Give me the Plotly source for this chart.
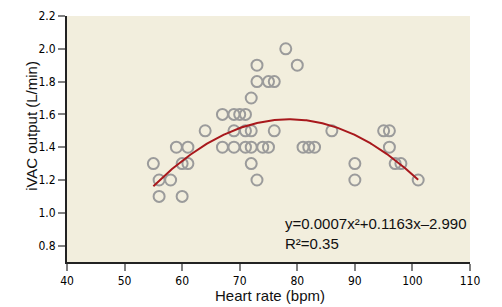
import plotly.graph_objects as go
import numpy as np

# Observed data (heart rate, iVAC output)
heart_rate = [55, 56, 56, 58, 59, 60, 60, 61, 61, 64, 67, 67, 69, 69, 69, 70, 71, 71, 71,
              72, 72, 72, 72, 73, 73, 73, 74, 75, 75, 76, 76, 78, 80, 81, 82, 83, 86,
              90, 90, 95, 96, 96, 97, 98, 101]
ivac_output = [1.3, 1.2, 1.1, 1.2, 1.4, 1.3, 1.1, 1.4, 1.3, 1.5, 1.6, 1.4, 1.6, 1.5, 1.4, 1.6, 1.6, 1.5, 1.4,
               1.7, 1.5, 1.4, 1.3, 1.9, 1.8, 1.2, 1.4, 1.8, 1.4, 1.8, 1.5, 2.0, 1.9, 1.4, 1.4, 1.4, 1.5,
               1.3, 1.2, 1.5, 1.5, 1.4, 1.3, 1.3, 1.2]

# Quadratic fit as drawn (coefficients)
fit_coef = [-0.000735, 0.1155, -2.967]
fit_range = [55, 101]

x_ticks = [40, 50, 60, 70, 80, 90, 100, 110]
y_ticks = [0.8, 1.0, 1.2, 1.4, 1.6, 1.8, 2.0, 2.2]

fx = np.linspace(fit_range[0], fit_range[1], 200)
fy = np.polyval(fit_coef, fx)

W, H = 502, 307
L, R, T, B = 67, 32, 9, 45
pw, ph = W - L - R, H - T - B

fig = go.Figure()
fig.add_trace(go.Scatter(
    x=heart_rate, y=ivac_output, mode="markers",
    marker=dict(symbol="circle-open", size=11, color="#9b9b9b", line=dict(width=2, color="#9b9b9b")),
    showlegend=False, hoverinfo="skip"))
fig.add_trace(go.Scatter(
    x=fx, y=fy, mode="lines", line=dict(color="#a8181c", width=2),
    showlegend=False, hoverinfo="skip"))

tick_font = dict(family="Liberation Sans Narrow, DejaVu Sans Condensed, Roboto Condensed, Arial Narrow, sans-serif",
                 size=12, color="#000")
title_font = dict(family="Liberation Sans, Arial, sans-serif", size=15, color="#111")

fig.add_annotation(x=77.55, y=0.934, xref="x", yref="y", text="y=0.0007x²+0.1163x–2.990",
                   showarrow=False, xanchor="left", yanchor="middle", font=title_font)
fig.add_annotation(x=77.55, y=0.815, xref="x", yref="y", text="R²=0.35",
                   showarrow=False, xanchor="left", yanchor="middle", font=title_font)


def px_to_paper(px, py):
    return (px - L) / pw, (H - B - py) / ph


xt, yt = px_to_paper(270, 296)
fig.add_annotation(x=xt, y=yt, xref="paper", yref="paper", text="Heart rate (bpm)",
                   xanchor="center", yanchor="middle", showarrow=False, font=title_font)
xt, yt = px_to_paper(32, 122)
fig.add_annotation(x=xt, y=yt, xref="paper", yref="paper", textangle=-90, text="iVAC output (L/min)",
                   xanchor="center", yanchor="middle", showarrow=False, font=title_font)

fig.update_layout(
    width=W, height=H,
    margin=dict(l=L, r=R, t=T, b=B),
    paper_bgcolor="white", plot_bgcolor="#f2eedd",
    xaxis=dict(range=[40, 110], tickvals=x_ticks, ticktext=[str(v) for v in x_ticks],
               showgrid=False, zeroline=False, showline=True, linecolor="#222", linewidth=2,
               ticks="outside", ticklen=7, tickwidth=2, tickcolor="#808080", tickfont=tick_font),
    yaxis=dict(range=[0.7, 2.2], tickvals=y_ticks, ticktext=[f"{v:.1f}" for v in y_ticks],
               showgrid=False, zeroline=False, showline=True, linecolor="#222", linewidth=2,
               ticks="outside", ticklen=7, tickwidth=2, tickcolor="#808080", tickfont=tick_font),
)
fig.write_html("out.html")
